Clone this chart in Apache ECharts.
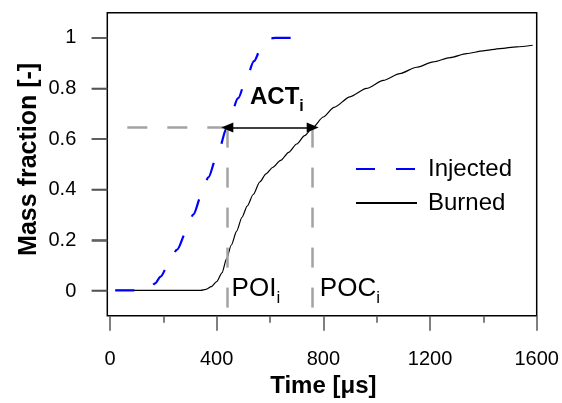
<!DOCTYPE html>
<html>
<head>
<meta charset="utf-8">
<script src="https://cdn.jsdelivr.net/npm/echarts@6/dist/echarts.min.js"></script>
<style>
  html, body { margin: 0; padding: 0; background: #fff; }
  #chart { width: 562px; height: 403px; }
</style>
</head>
<body>
<div id="chart"></div>
<script>
// ---- data ----
const xMin = 0, xMax = 1600, xStep = 400;
const yMin = 0, yMax = 1, yStep = 0.2;
const yTickValues = [0, 0.2, 0.4, 0.6, 0.8, 1];
// extent of the framed plot box (slightly larger than the tick range)
const frameX = [-10, 1600];
const frameY = [-0.1, 1.1];

const injected = [
  [20, 0], [130, 0], [150, 0.008], [169, 0.028], [190, 0.055], [214, 0.092],
  [252, 0.162], [285, 0.23], [312, 0.3], [344, 0.38], [369, 0.448], [397, 0.52],
  [440, 0.645], [481, 0.762], [510, 0.835], [540, 0.908], [565, 0.955],
  [585, 0.985], [600, 0.998], [620, 1], [690, 1]
];

const burned = [
  [20, 0], [340, 0], [360, 0.004], [380, 0.015], [400, 0.035], [420, 0.07],
  [437, 0.125], [455, 0.18], [475, 0.235], [495, 0.29], [515, 0.335],
  [537, 0.38], [562, 0.43], [585, 0.462], [610, 0.487], [640, 0.515],
  [670, 0.547], [700, 0.58], [730, 0.613], [760, 0.645], [800, 0.687],
  [840, 0.725], [900, 0.767], [962, 0.8], [1025, 0.832], [1087, 0.859],
  [1150, 0.884], [1212, 0.905], [1275, 0.922], [1337, 0.938], [1400, 0.949],
  [1462, 0.958], [1525, 0.965], [1585, 0.971]
];

// POI / POC times and the mass fraction level used for ACT
const poiTime = 440;
const pocTime = 760;
const actLevel = 0.645;
const guideBottom = -0.083;

// annotation anchors (data coordinates)
const notes = [
  { value: [525, 0.763], text: '{b|ACT}{bs|i}' },
  { value: [456, 0.008], text: '{n|POI}{ns|i}' },
  { value: [787, 0.008], text: '{n|POC}{ns|i}' }
];

const FONT = "'Liberation Sans', Arial, sans-serif";

const chart = echarts.init(document.getElementById('chart'), null, { renderer: 'canvas' });

const grey = '#a3a3a3';
const tickStyle = { color: '#555', width: 1.5 };
const Y_TICK_LEN = 15.6;

chart.setOption({
  animation: false,
  backgroundColor: '#fff',
  textStyle: { fontFamily: FONT },
  grid: [
    { // frame box, holds the data
      left: 107.3, right: 25.3, top: 12.7, bottom: 87.3,
      show: true, borderColor: '#000', borderWidth: 1.5,
      backgroundColor: 'transparent', containLabel: false, outerBoundsMode: 'none'
    },
    { // x tick range (0..1600)
      left: 110, right: 25.3, top: 37.7, bottom: 112,
      show: false, containLabel: false, outerBoundsMode: 'none'
    },
    { // strip left of the frame holding the y labels (0..1)
      left: 91.7, right: 454.7, top: 37.7, bottom: 112,
      show: false, containLabel: false, outerBoundsMode: 'none'
    }
  ],
  legend: {
    orient: 'vertical', left: 350, top: 152,
    itemWidth: 61, itemHeight: 2, itemGap: 10,
    data: ['Injected', 'Burned'],
    itemStyle: { opacity: 0 },
    textStyle: { fontSize: 24, color: '#000', fontFamily: FONT, padding: [0, 0, 0, 6] }
  },
  xAxis: [
    { gridIndex: 0, type: 'value', min: frameX[0], max: frameX[1], show: false },
    {
      gridIndex: 1, type: 'value', min: xMin, max: xMax, interval: xStep,
      position: 'bottom', offset: 24.7,
      axisLine: { show: false, onZero: false },
      splitLine: { show: false },
      axisTick: { show: true, inside: false, length: 15, lineStyle: tickStyle },
      minorTick: { show: true, splitNumber: 2, length: 7, lineStyle: tickStyle },
      minorSplitLine: { show: false },
      axisLabel: { show: true, fontSize: 20, color: '#000', margin: 34, fontFamily: FONT,
                   formatter: v => String(v), showMinLabel: true, showMaxLabel: true },
      name: 'Time [μs]', nameLocation: 'middle', nameGap: 51,
      nameTextStyle: { fontSize: 24, fontWeight: 'bold', color: '#000', fontFamily: FONT }
    },
    { gridIndex: 2, type: 'value', min: 0, max: 1, show: false }
  ],
  yAxis: [
    { gridIndex: 0, type: 'value', min: frameY[0], max: frameY[1], show: false },
    { gridIndex: 1, type: 'value', min: yMin, max: yMax, show: false },
    {
      gridIndex: 2, type: 'value', min: yMin, max: yMax, interval: yStep,
      position: 'left',
      axisLine: { show: false, onZero: false },
      axisTick: { show: false },
      splitLine: { show: true, lineStyle: tickStyle },
      axisLabel: { show: true, fontSize: 20, color: '#000', margin: 15.4, fontFamily: FONT,
                   formatter: v => String(Math.round(v * 1000) / 1000), showMinLabel: true, showMaxLabel: true },
      name: 'Mass fraction [-]', nameLocation: 'middle', nameGap: 50,
      nameTextStyle: { fontSize: 25, fontWeight: 'bold', color: '#000', fontFamily: FONT, padding: [0, 0, 0, 10] }
    }
  ],
  series: [
    {
      name: 'Injected', type: 'line', data: injected,
      symbol: 'none', smooth: 0.3, smoothMonotone: 'x',
      lineStyle: { color: '#0000ff', width: 2.2, type: [19, 21] },
      itemStyle: { color: '#0000ff' },
      z: 4
    },
    {
      name: 'Burned', type: 'line', data: burned,
      symbol: 'none', smooth: 0.25, smoothMonotone: 'x',
      lineStyle: { color: '#000', width: 1.2 },
      itemStyle: { color: '#000' },
      z: 3,
      markLine: {
        silent: true, animation: false, symbol: ['none', 'none'],
        label: { show: false },
        lineStyle: { color: grey, width: 2.5, type: [20, 20] },
        data: [
          [{ coord: [poiTime, actLevel] }, { coord: [0, actLevel] }],
          [{ coord: [poiTime, actLevel] }, { coord: [poiTime, guideBottom] }],
          [{ coord: [pocTime, actLevel] }, { coord: [pocTime, guideBottom] }],
          [
            { coord: [poiTime, actLevel], symbol: 'triangle', symbolSize: [10, 12],
              lineStyle: { color: '#000', width: 1.6, type: 'solid' } },
            { coord: [pocTime, actLevel], symbol: 'triangle', symbolSize: [10, 12] }
          ]
        ]
      }
    },
    {
      name: 'notes', type: 'scatter',
      data: notes.map(n => ({ value: n.value, text: n.text })),
      symbolSize: 0, silent: true, z: 6,
      itemStyle: { opacity: 1 },
      label: {
        show: true, position: [0, 0], align: 'left', verticalAlign: 'middle',
        color: '#000', opacity: 1, textBorderWidth: 0,
        formatter: p => p.data.text,
        rich: {
          b: { fontSize: 24, fontWeight: 'bold', color: '#000', fontFamily: FONT, lineHeight: 34 },
          bs: { fontSize: 16, fontWeight: 'bold', color: '#000', fontFamily: FONT, verticalAlign: 'bottom', lineHeight: 16 },
          n: { fontSize: 26, color: '#000', fontFamily: FONT, lineHeight: 36 },
          ns: { fontSize: 17, color: '#000', fontFamily: FONT, verticalAlign: 'bottom', lineHeight: 17 }
        }
      }
    }
  ]
});

// y-axis tick marks: positions come from the frame's y scale via convertToPixel
const frameLeftPx = chart.convertToPixel({ xAxisIndex: 0 }, frameX[0]);
chart.setOption({
  graphic: yTickValues.map(v => {
    const y = chart.convertToPixel({ yAxisIndex: 0 }, v);
    return {
      type: 'line', silent: true, z: 100,
      shape: { x1: frameLeftPx - Y_TICK_LEN, y1: y, x2: frameLeftPx, y2: y },
      style: { stroke: '#555', lineWidth: 1.5 }
    };
  })
});
</script>
</body>
</html>
